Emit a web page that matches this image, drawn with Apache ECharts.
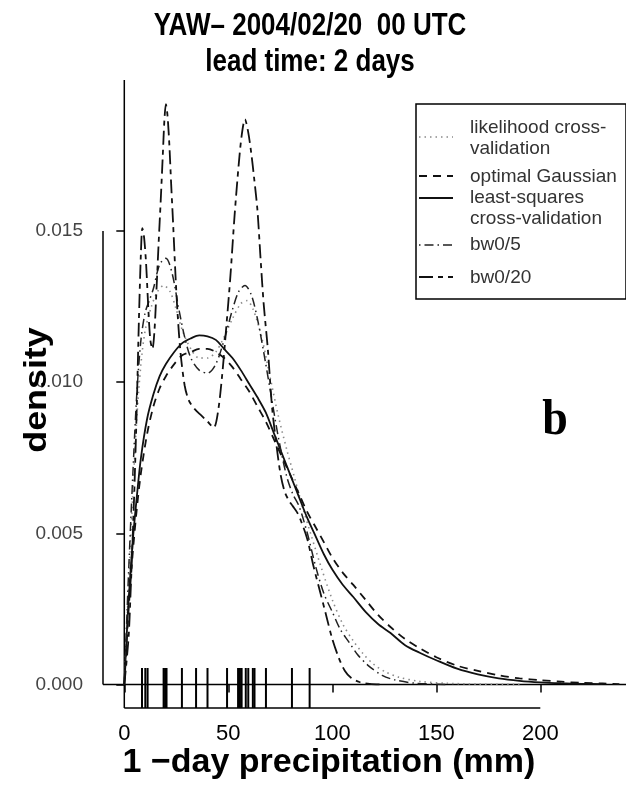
<!DOCTYPE html>
<html>
<head>
<meta charset="utf-8">
<script src="https://cdn.jsdelivr.net/npm/echarts@6/dist/echarts.min.js"></script>
<style>html,body{margin:0;padding:0;background:#fff}#c{width:626px;height:785px}</style>
</head>
<body>
<div id="c"></div>
<script>
// ---------- data ----------
const titleLines = ['YAW\u2013 2004/02/20  00 UTC', 'lead time: 2 days'];
const xTitle = '1 \u2212day precipitation (mm)';
const yTitle = 'density';
const panelLabel = 'b';
const seriesNames = ['likelihood cross-validation', 'optimal Gaussian', 'least-squares cross-validation', 'bw0/5', 'bw0/20'];
const legendLabels = ['likelihood cross-\nvalidation', 'optimal Gaussian', 'least-squares\ncross-validation', 'bw0/5', 'bw0/20'];

const xTicks = [0, 50, 100, 150, 200];
const yTicks = [0, 0.005, 0.010, 0.015];

const rugX = [8.5, 10.1, 11.2, 18.9, 19.6, 20.3, 27.7, 34.5, 40, 49.4, 54.7, 55.6, 56.4, 58.4, 59.6, 61.8, 62.6, 68.1, 80.6, 89.1];

const lcvX = [0, 1, 2, 4, 6, 8, 10, 13, 16, 19, 22, 25, 28, 32, 36, 40, 44, 48, 52, 56, 59, 62, 66, 70, 74, 78, 82, 86, 90, 95, 100, 105, 110, 115, 120, 126, 132, 142, 155, 170, 190];
const lcvY = [0, 0.0016, 0.0032, 0.0062, 0.0088, 0.0106, 0.0117, 0.0125, 0.0130, 0.0132, 0.0130, 0.0124, 0.0117, 0.0111, 0.0108, 0.0108, 0.0110, 0.0115, 0.0121, 0.0126, 0.0127, 0.0124, 0.0115, 0.0102, 0.0089, 0.0078, 0.0068, 0.0058, 0.0049, 0.0038, 0.0028, 0.0020, 0.00145, 0.0010, 0.00066, 0.0004, 0.00024, 0.0001, 0.00004, 0.00001, 0];

const gaussX = [0, 1, 2, 4, 6, 8, 11, 14, 17, 20, 24, 28, 32, 36, 40, 44, 48, 52, 56, 60, 64, 68, 72, 76, 80, 84, 88, 92, 96, 100, 105, 110, 116, 122, 128, 135, 142, 150, 160, 170, 180, 190, 200, 210, 220, 230, 238];
const gaussY = [0, 0.0012, 0.0024, 0.0043, 0.0058, 0.0070, 0.0083, 0.0092, 0.0098, 0.0102, 0.0106, 0.0109, 0.0110, 0.0111, 0.0111, 0.0110, 0.0108, 0.0105, 0.0101, 0.0097, 0.0092, 0.0087, 0.0081, 0.0075, 0.0069, 0.0063, 0.0057, 0.0052, 0.0047, 0.0042, 0.0037, 0.0033, 0.0028, 0.0023, 0.0019, 0.0015, 0.0012, 0.0009, 0.00062, 0.00045, 0.0003, 0.0002, 0.00014, 0.00009, 0.00005, 0.00003, 0.00001];

const lscvX = [0, 1, 2, 4, 6, 8, 11, 14, 17, 20, 24, 28, 32, 36, 40, 44, 48, 52, 56, 60, 64, 68, 72, 76, 80, 84, 88, 92, 96, 100, 105, 110, 116, 122, 128, 135, 142, 150, 160, 170, 180, 190, 200, 210, 220, 230];
const lscvY = [0, 0.0014, 0.0027, 0.0047, 0.0062, 0.0075, 0.0088, 0.0096, 0.0102, 0.0106, 0.0110, 0.0113, 0.01145, 0.01155, 0.01152, 0.0114, 0.0111, 0.0108, 0.0104, 0.00995, 0.0095, 0.0090, 0.0083, 0.0076, 0.0069, 0.0062, 0.0055, 0.0049, 0.0043, 0.0038, 0.0033, 0.0029, 0.0024, 0.0020, 0.0017, 0.0013, 0.00105, 0.0008, 0.00052, 0.00033, 0.0002, 0.00012, 0.00007, 0.00004, 0.00002, 0.00001];

const bw5X = [0, 1, 2, 4, 6, 8, 10, 12, 14, 17, 20, 23, 26, 29, 32, 36, 40, 44, 48, 52, 55, 58, 61, 64, 67, 70, 74, 78, 81, 84, 88, 92, 96, 100, 104, 108, 112, 117, 124, 130, 140, 155];
const bw5Y = [0, 0.0018, 0.0036, 0.0068, 0.0096, 0.0114, 0.0123, 0.0127, 0.0131, 0.0139, 0.0141, 0.0136, 0.0125, 0.0115, 0.0108, 0.0104, 0.0103, 0.0106, 0.0114, 0.0124, 0.0130, 0.0132, 0.0129, 0.0121, 0.0110, 0.0098, 0.0082, 0.0069, 0.0063, 0.0059, 0.0050, 0.0039, 0.0030, 0.0024, 0.0018, 0.0014, 0.0010, 0.00064, 0.0003, 0.00015, 0.00004, 0];

const bw20X = [0, 2, 3, 4, 5, 6, 7, 8, 8.7, 9.5, 10.5, 11.5, 12.5, 13.5, 14.5, 15.5, 16.5, 17.5, 18.5, 19.3, 20, 20.8, 21.7, 22.5, 23.5, 24.5, 25.5, 27, 29, 31, 34, 37, 40, 43, 45, 47, 49, 51, 53, 55, 56.5, 58, 59.5, 61, 62.5, 64, 65.5, 67, 69, 71, 73, 75, 77, 79, 81, 83, 85, 88, 91, 94, 97, 100, 103, 106, 109, 113, 118, 125];
const bw20Y = [0, 0.0015, 0.003, 0.0048, 0.0068, 0.0092, 0.0120, 0.0143, 0.0151, 0.0148, 0.0139, 0.0125, 0.0114, 0.0111, 0.0117, 0.0131, 0.0146, 0.0160, 0.0175, 0.0187, 0.0192, 0.0188, 0.0178, 0.0166, 0.0152, 0.0137, 0.0124, 0.0110, 0.0099, 0.0094, 0.0091, 0.0089, 0.0087, 0.0085, 0.0090, 0.0102, 0.0118, 0.0135, 0.0155, 0.0172, 0.0182, 0.0187, 0.0183, 0.0176, 0.0167, 0.0157, 0.0141, 0.0126, 0.0111, 0.0092, 0.0080, 0.0070, 0.0064, 0.0061, 0.0059, 0.0057, 0.0054, 0.0048, 0.0039, 0.0031, 0.0023, 0.0015, 0.0009, 0.00045, 0.00022, 0.00008, 0.00002, 0];

// ---------- layout / style ----------
const X_MIN = -10.24, X_MAX = 241.2;
const Y_MIN = -0.00078, Y_MAX = 0.0200;
const FONT = '"Liberation Sans", Arial, Helvetica, sans-serif';

const styles = [
  {color: '#8a8a8a', width: 1.6, dash: [1.5, 4]},
  {color: '#111', width: 1.8, dash: [8, 6]},
  {color: '#111', width: 1.8, dash: 'solid'},
  {color: '#222', width: 1.5, dash: [1.5, 4, 9, 4]},
  {color: '#111', width: 1.8, dash: [14, 5, 5, 5]}
];
const curves = [[lcvX, lcvY], [gaussX, gaussY], [lscvX, lscvY], [bw5X, bw5Y], [bw20X, bw20Y]];

const zip = (xs, ys) => xs.map((x, i) => [x, ys[i]]);

const series = curves.map((c, i) => ({
  name: seriesNames[i], type: 'line', data: zip(c[0], c[1]),
  showSymbol: false, smooth: 0.3, silent: true, z: 3,
  lineStyle: {color: styles[i].color, width: styles[i].width, type: styles[i].dash}
}));

const plainLine = (data) => ({
  type: 'line', data, showSymbol: false, silent: true, clip: false, z: 2,
  lineStyle: {color: '#000', width: 1.5, type: 'solid'}
});
// axis lines (R style: only between first and last tick)
series.push(plainLine([[xTicks[0], Y_MIN], [xTicks[xTicks.length - 1], Y_MIN]]));
series.push(plainLine([[X_MIN, yTicks[0]], [X_MIN, yTicks[yTicks.length - 1]]]));
// reference lines at x = 0 and density = 0
series.push(plainLine([[0, Y_MIN], [0, Y_MAX]]));
series.push(plainLine([[X_MIN, 0], [X_MAX, 0]]));
// rug
series.push({
  type: 'custom', clip: false, silent: true, z: 4,
  data: rugX.map(v => [v, Y_MIN]), encode: {x: 0, y: 1},
  renderItem: (params, api) => {
    const p = api.coord([api.value(0), api.value(1)]);
    return {type: 'line', shape: {x1: p[0], y1: p[1], x2: p[0], y2: p[1] - 40},
            style: {stroke: '#000', lineWidth: 2}};
  }
});

// ---------- legend (graphic) ----------
const lg = {left: 416, top: 104, w: 210, h: 195};
const legendRows = [
  {y: 137, textY: 138},
  {y: 176, textY: 177},
  {y: 198, textY: 208},
  {y: 245, textY: 245},
  {y: 277, textY: 278}
];
const graphic = [
  {type: 'rect', shape: {x: lg.left, y: lg.top, width: lg.w, height: lg.h},
   style: {fill: '#fff', stroke: '#000', lineWidth: 1.5}, z: 10}
];
legendRows.forEach((r, i) => {
  graphic.push({type: 'line', shape: {x1: 419, y1: r.y, x2: 453, y2: r.y},
    style: {stroke: styles[i].color, lineWidth: styles[i].width,
            lineDash: styles[i].dash === 'solid' ? null : styles[i].dash}, z: 11});
  graphic.push({type: 'text', x: 470, y: r.textY, z: 11,
    style: {text: legendLabels[i], font: '19px ' + FONT, fill: '#333',
            verticalAlign: 'middle', lineHeight: 21}});
});
// titles
graphic.push({type: 'text', x: 310, y: 27, scaleY: 1.18, z: 12,
  style: {text: titleLines[0], font: 'bold 26px ' + FONT, fill: '#000', align: 'center', verticalAlign: 'middle'}});
graphic.push({type: 'text', x: 310, y: 63, scaleY: 1.18, z: 12,
  style: {text: titleLines[1], font: 'bold 26px ' + FONT, fill: '#000', align: 'center', verticalAlign: 'middle'}});
graphic.push({type: 'text', x: 329, y: 763, z: 12,
  style: {text: xTitle, font: 'bold 34px ' + FONT, fill: '#000', align: 'center', verticalAlign: 'middle'}});
graphic.push({type: 'text', x: 37, y: 390, rotation: Math.PI / 2, scaleX: 1.12, z: 12,
  style: {text: yTitle, font: 'bold 32px ' + FONT, fill: '#000', align: 'center', verticalAlign: 'middle'}});
graphic.push({type: 'text', x: 555, y: 421, scaleY: 1.1, z: 12,
  style: {text: panelLabel, font: 'bold 46px "Liberation Serif", "Times New Roman", serif', fill: '#000', align: 'center', verticalAlign: 'middle'}});

const chart = echarts.init(document.getElementById('c'), null, {renderer: 'canvas'});
chart.setOption({
  animation: false,
  backgroundColor: '#fff',
  grid: {left: 103, right: 0, top: 80, bottom: 77, containLabel: false},
  xAxis: {
    type: 'value', min: X_MIN, max: X_MAX,
    axisLine: {show: false}, splitLine: {show: false},
    axisTick: {show: true, customValues: xTicks, length: 8, inside: false, lineStyle: {color: '#000', width: 1.5}},
    axisLabel: {show: true, customValues: xTicks, margin: 15, fontSize: 22, color: '#000', fontFamily: FONT}
  },
  yAxis: {
    type: 'value', min: Y_MIN, max: Y_MAX,
    axisLine: {show: false}, splitLine: {show: false},
    axisTick: {show: true, customValues: yTicks, length: 8, inside: false, lineStyle: {color: '#000', width: 1.5}},
    axisLabel: {show: true, customValues: yTicks, margin: 20, fontSize: 19, color: '#444', fontFamily: FONT,
                formatter: v => v.toFixed(3)}
  },
  series,
  graphic
});
</script>
</body>
</html>
